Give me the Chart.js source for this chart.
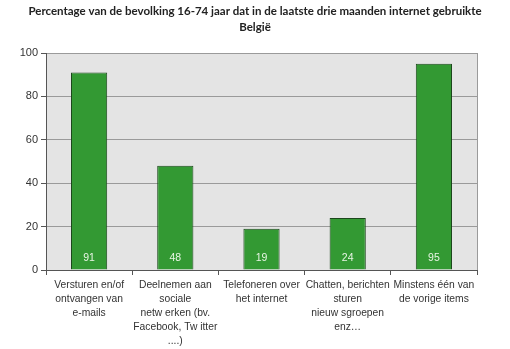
<!DOCTYPE html>
<html>
<head>
<meta charset="utf-8">
<script src="https://cdn.jsdelivr.net/npm/chart.js@4"></script>
<style>
  html, body { margin: 0; padding: 0; background: #fff; }
  #wrap { width: 510px; height: 349px; }
</style>
</head>
<body>
<div id="wrap"><canvas id="chart"></canvas></div>
<script>
// Internet use in the last three months, Belgium, age 16-74 (%)
const categories = [
    ['Versturen en/of', 'ontvangen van', 'e-mails'],
    ['Deelnemen aan', 'sociale', 'netw erken (bv.', 'Facebook, Tw itter', '....)'],
    ['Telefoneren over', 'het internet'],
    ['Chatten, berichten', 'sturen', 'nieuw sgroepen', 'enz…'],
    ['Minstens één van', 'de vorige items']
];
const percentages = [91, 48, 19, 24, 95];
const yTicks = [0, 20, 40, 60, 80, 100];

const titleLines = [
    'Percentage van de bevolking 16-74 jaar dat in de laatste drie maanden internet gebruikte',
    'België'
];

// grey plot background plus right-hand border
const plotBackground = {
    id: 'plotBackground',
    beforeDraw(chart) {
        const { ctx, chartArea: a } = chart;
        ctx.save();
        ctx.fillStyle = '#e4e4e4';
        ctx.fillRect(a.left, a.top, a.right - a.left, a.bottom - a.top);
        ctx.strokeStyle = '#9a9a9a';
        ctx.lineWidth = 1;
        ctx.beginPath();
        ctx.moveTo(Math.round(a.right) + 0.5, a.top);
        ctx.lineTo(Math.round(a.right) + 0.5, a.bottom);
        ctx.stroke();
        ctx.restore();
    }
};

// title centred on the whole canvas, not just the plot
const pageTitle = {
    id: 'pageTitle',
    afterDraw(chart) {
        const { ctx, width } = chart;
        ctx.save();
        ctx.font = 'bold 11.5px Lato, "Open Sans", sans-serif';
        ctx.fillStyle = '#222';
        ctx.textAlign = 'center';
        ctx.textBaseline = 'middle';
        titleLines.forEach((line, i) => ctx.fillText(line, width / 2, 11 + i * 16));
        ctx.restore();
    }
};

// value printed near the foot of each bar
const barValues = {
    id: 'barValues',
    afterDatasetsDraw(chart) {
        const { ctx } = chart;
        const meta = chart.getDatasetMeta(0);
        const yScale = chart.scales.y;
        ctx.save();
        ctx.font = '10.5px "Liberation Sans", Arial, sans-serif';
        ctx.fillStyle = '#e8f5e4';
        ctx.textAlign = 'center';
        ctx.textBaseline = 'middle';
        meta.data.forEach((bar, i) => {
            ctx.fillText(String(percentages[i]), bar.x, yScale.getPixelForValue(0) - 12);
        });
        ctx.restore();
    }
};

new Chart(document.getElementById('chart'), {
    type: 'bar',
    data: {
        labels: categories,
        datasets: [{
            data: percentages,
            backgroundColor: '#339933',
            borderColor: '#1c471c',
            borderWidth: 1,
            categoryPercentage: 1,
            barPercentage: 0.42
        }]
    },
    options: {
        responsive: true,
        maintainAspectRatio: false,
        animation: false,
        layout: { padding: { left: 0, right: 33, top: 53, bottom: 0 } },
        plugins: {
            legend: { display: false },
            tooltip: { enabled: false },
            title: { display: false }
        },
        scales: {
            x: {
                grid: {
                    offset: true,
                    drawOnChartArea: false,
                    tickLength: 5,
                    tickColor: '#555'
                },
                border: { color: '#555' },
                ticks: {
                    color: '#333',
                    padding: 3,
                    maxRotation: 0,
                    autoSkip: false,
                    font: { family: '"Liberation Sans", Arial, sans-serif', size: 10.3, lineHeight: 1.36 }
                },
                afterFit(scale) { scale.height = 79; }
            },
            y: {
                min: 0,
                max: 100,
                afterBuildTicks(scale) { scale.ticks = yTicks.map(v => ({ value: v })); },
                grid: {
                    color: '#9a9a9a',
                    tickColor: '#555',
                    tickLength: 5
                },
                border: { color: '#555' },
                ticks: {
                    color: '#333',
                    padding: 3,
                    font: { family: '"Liberation Sans", Arial, sans-serif', size: 11 }
                },
                afterFit(scale) { scale.width = 46; }
            }
        }
    },
    plugins: [plotBackground, barValues, pageTitle]
});
</script>
</body>
</html>
